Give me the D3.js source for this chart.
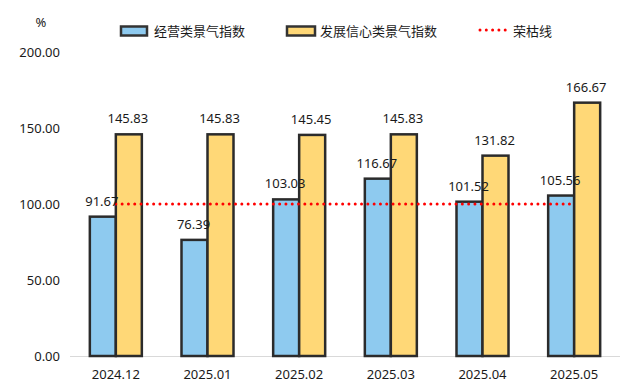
<!DOCTYPE html>
<html>
<head>
<meta charset="utf-8">
<script src="https://cdn.jsdelivr.net/npm/d3@7"></script>
<style>
  body { margin: 0; background: #fff; }
  text { font-family: "Noto Sans", "Noto Sans CJK SC", sans-serif; fill: #1a1a1a; }
</style>
</head>
<body>
<div class="chart"></div>
<script>
var months = ["2024.12", "2025.01", "2025.02", "2025.03", "2025.04", "2025.05"];
var operating = [91.67, 76.39, 103.03, 116.67, 101.52, 105.56];
var confidence = [145.83, 145.83, 145.45, 145.83, 131.82, 166.67];
var boomLine = [100, 100, 100, 100, 100, 100];
var yTicks = [0, 50, 100, 150, 200];
var seriesNames = ["经营类景气指数", "发展信心类景气指数", "荣枯线"];

var width = 635, height = 391;
var margin = {top: 52, right: 16, bottom: 35, left: 70};

var svg = d3.select(".chart").append("svg")
  .attr("width", width)
  .attr("height", height);

var x = d3.scaleBand()
  .domain(months)
  .range([margin.left, 620])
  .paddingInner(0)
  .paddingOuter(0);

var x1 = d3.scaleBand()
  .domain(["op", "conf"])
  .range([x.bandwidth() / 2 - 26, x.bandwidth() / 2 + 26]);

var y = d3.scaleLinear()
  .domain([0, 200])
  .range([height - 35, margin.top]);

// y labels
svg.append("g").selectAll("text")
  .data(yTicks)
  .enter().append("text")
  .attr("x", 60)
  .attr("y", function(d) { return y(d); })
  .attr("dy", "0.35em")
  .attr("text-anchor", "end")
  .style("font-size", "13px")
  .text(function(d) { return d3.format(".2f")(d); });

svg.append("text")
  .attr("x", 41)
  .attr("y", 22)
  .attr("dy", "0.35em")
  .attr("text-anchor", "middle")
  .style("font-size", "13px")
  .text("%");

// baseline
svg.append("line")
  .attr("x1", margin.left).attr("x2", 620)
  .attr("y1", y(0) + 0.5).attr("y2", y(0) + 0.5)
  .attr("stroke", "#d9d9d9")
  .attr("stroke-width", 1.2);

// x labels
svg.append("g").selectAll("text")
  .data(months)
  .enter().append("text")
  .attr("x", function(d) { return x(d) + x.bandwidth() / 2; })
  .attr("y", 374)
  .attr("dy", "0.35em")
  .attr("text-anchor", "middle")
  .style("font-size", "13px")
  .text(function(d) { return d; });

var series = [
  {key: "op", values: operating, color: "#8ecaef"},
  {key: "conf", values: confidence, color: "#ffd877"}
];

series.forEach(function(s) {
  var g = svg.append("g");
  g.selectAll("rect")
    .data(s.values)
    .enter().append("rect")
    .attr("x", function(d, i) { return x(months[i]) + x1(s.key); })
    .attr("y", function(d) { return y(d); })
    .attr("width", x1.bandwidth())
    .attr("height", function(d) { return y(0) - y(d); })
    .attr("fill", s.color)
    .attr("stroke", "#2b2b2b")
    .attr("stroke-width", 2.5);
});

// boom-bust line
var line = d3.line()
  .x(function(d, i) { return x(months[i]) + x.bandwidth() / 2; })
  .y(function(d) { return y(d); });

svg.append("path")
  .datum(boomLine)
  .attr("d", line)
  .attr("fill", "none")
  .attr("stroke", "#ff0000")
  .attr("stroke-width", 3)
  .attr("stroke-linecap", "round")
  .attr("stroke-dasharray", "0 6.3");

// value labels
series.forEach(function(s) {
  svg.append("g").selectAll("text")
    .data(s.values)
    .enter().append("text")
    .attr("x", function(d, i) { return x(months[i]) + x1(s.key) + x1.bandwidth() / 2 - 1; })
    .attr("y", function(d) { return y(d) - 11; })
    .attr("text-anchor", "middle")
    .style("font-size", "13px")
    .text(function(d) { return d3.format(".2f")(d); });
});

// legend
var legend = svg.append("g");
var lx = [120, 286, 478];
var ly = 31;
legend.append("rect")
  .attr("x", lx[0] + 1).attr("y", ly - 4.5)
  .attr("width", 26).attr("height", 9)
  .attr("fill", series[0].color).attr("stroke", "#333").attr("stroke-width", 2.5);
legend.append("rect")
  .attr("x", lx[1] + 1).attr("y", ly - 4.5)
  .attr("width", 28).attr("height", 9)
  .attr("fill", series[1].color).attr("stroke", "#333").attr("stroke-width", 2.5);
legend.append("line")
  .attr("x1", lx[2] + 2).attr("x2", lx[2] + 29)
  .attr("y1", ly - 1).attr("y2", ly - 1)
  .attr("stroke", "#ff0000")
  .attr("stroke-width", 3)
  .attr("stroke-linecap", "round")
  .attr("stroke-dasharray", "0 6.3");

var tx = [154, 320, 513];
seriesNames.forEach(function(name, i) {
  legend.append("text")
    .attr("x", tx[i])
    .attr("y", ly)
    .attr("dy", "0.35em")
    .style("font-size", "13px")
    .text(name);
});
</script>
</body>
</html>
